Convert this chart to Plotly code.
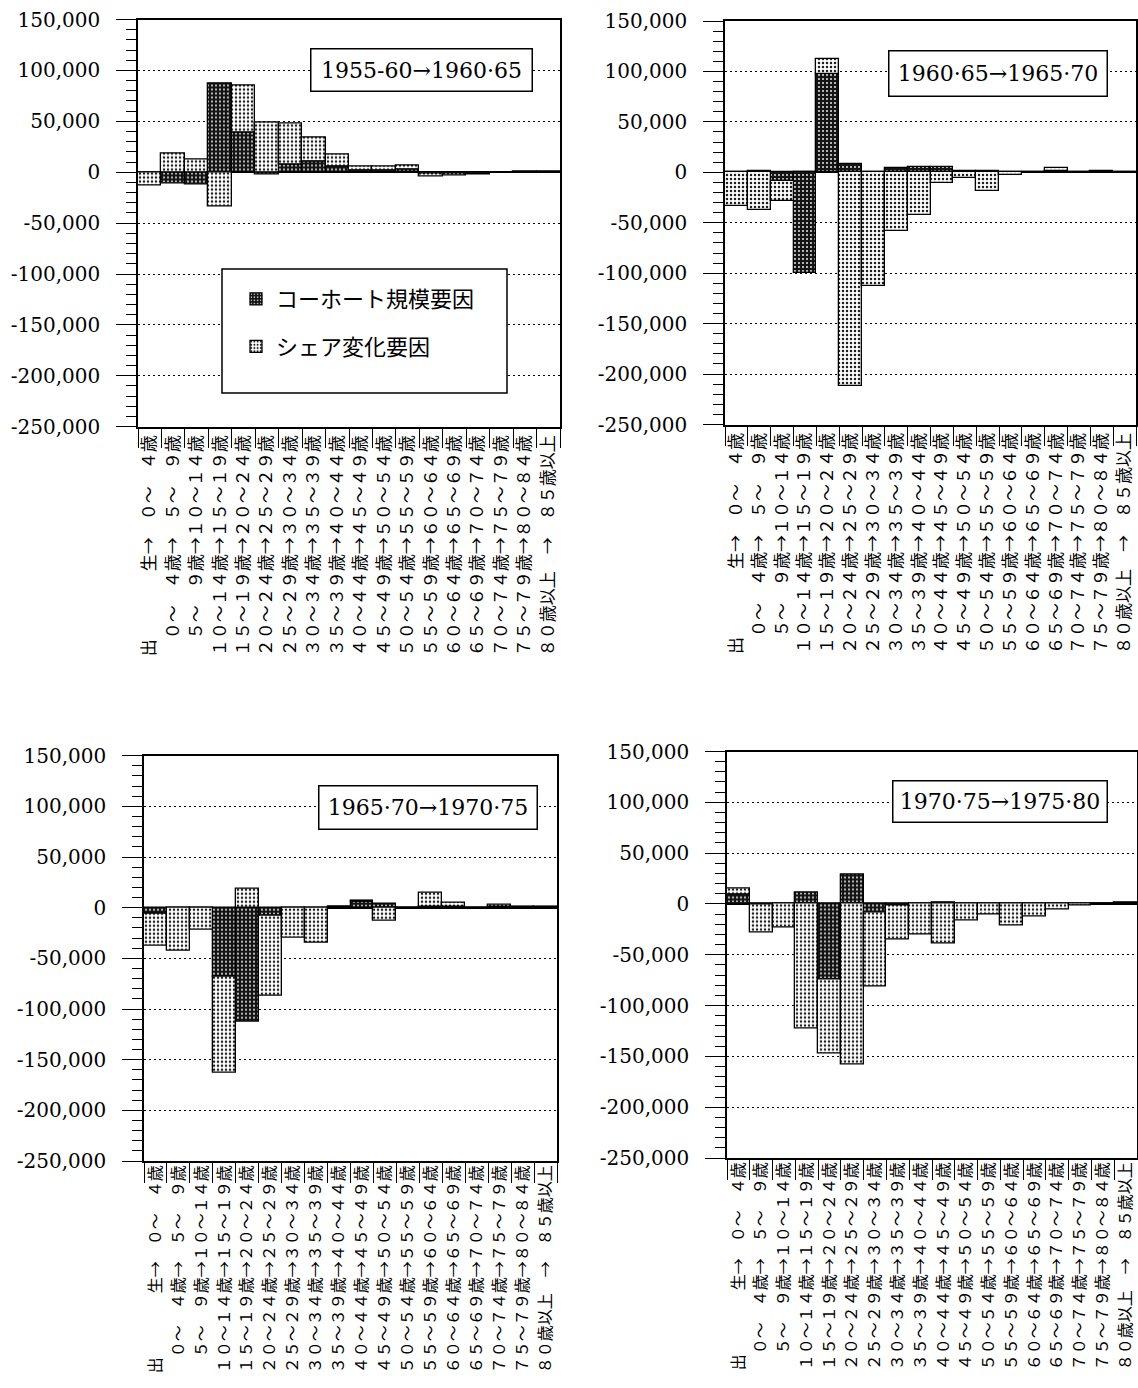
import plotly.graph_objects as go

# Age-group transitions (cohort moves from one 5-year band to the next)
categories = [
    "出　　　　生→　０～　４歳",
    "　０～　４歳→　５～　９歳",
    "　５～　９歳→１０～１４歳",
    "１０～１４歳→１５～１９歳",
    "１５～１９歳→２０～２４歳",
    "２０～２４歳→２５～２９歳",
    "２５～２９歳→３０～３４歳",
    "３０～３４歳→３５～３９歳",
    "３５～３９歳→４０～４４歳",
    "４０～４４歳→４５～４９歳",
    "４５～４９歳→５０～５４歳",
    "５０～５４歳→５５～５９歳",
    "５５～５９歳→６０～６４歳",
    "６０～６４歳→６５～６９歳",
    "６５～６９歳→７０～７４歳",
    "７０～７４歳→７５～７９歳",
    "７５～７９歳→８０～８４歳",
    "８０歳以上　→　８５歳以上",
]

series_names = ["コーホート規模要因", "シェア変化要因"]
period_labels = [
    "1955-60→1960·65",
    "1960·65→1965·70",
    "1965·70→1970·75",
    "1970·75→1975·80",
]

# Cohort-size factor and share-change factor, per period
cohort_1 = [0, -11000, -12000, 87000, 39000, -2000, 8000, 11000, 6000, 2000, 2000, 3000,
            -1000, -1000, -1000, 0, 0, 0]
share_1 = [-13000, 18000, 12000, -34000, 46000, 49000, 40000, 23000, 11000, 4000, 4000, 4000,
           -3000, -2000, -1000, -500, 500, 500]

cohort_2 = [0, 1000, -9000, -100000, 97000, 8000, 0, 4000, 5000, 5000, 1000, 1000,
            0, 0, 1000, 0, 0, 0]
share_2 = [-33000, -37000, -19000, 0, 15000, -212000, -113000, -58000, -42000, -11000, -6000, -19000,
           -3000, 0, 3000, 500, 1000, -1000]

cohort_3 = [-6000, 0, 0, -68000, -113000, -8000, 0, 0, 1000, 6000, 4000, 0,
            1000, 1000, 0, 1000, 0, 0]
share_3 = [-32000, -42000, -22000, -95000, 19000, -79000, -30000, -35000, 0, 1000, -13000, -1000,
           14000, 4000, -1000, 2000, 1000, 1000]

cohort_4 = [9000, -1000, 0, 11000, -74000, 28500, -8500, -2000, 0, 1000, 0, 0,
            500, 0, 0, 0, 0, 0]
share_4 = [6500, -27000, -23000, -123000, -73000, -158000, -73000, -33000, -30000, -39000, -16000, -10000,
           -21000, -12000, -5000, -2000, 500, 1000]

cohort_values = [cohort_1, cohort_2, cohort_3, cohort_4]
share_values = [share_1, share_2, share_3, share_4]

y_tickvals = [150000, 100000, 50000, 0, -50000, -100000, -150000, -200000, -250000]
y_ticktext = ["150,000", "100,000", "50,000", "0", "-50,000", "-100,000",
              "-150,000", "-200,000", "-250,000"]

W, H = 1138, 1388


def xdom(a, b):
    return [a / W, min(b / W, 1.0)]


def ydom(top, bottom):
    return [1 - bottom / H, 1 - top / H]


# Plot-area frames in pixels: (left, right, top, bottom)
frames = [
    (138, 560, 19.5, 426.7),
    (725, 1136, 21, 424.5),
    (144, 557, 755.7, 1161),
    (727, 1137, 751.5, 1158),
]
# Category label font size and offset for each panel
xlabel_size = [17, 17, 16, 16]
xlabel_standoff = [0, 0, -4, -4]

# Period label boxes in pixels: (left, right, top, bottom)
label_boxes = [
    (310, 533, 48, 92),
    (888, 1108, 50, 97),
    (318, 538, 785, 830),
    (892, 1108, 780, 823),
]

DARK = dict(color="#141414",
            pattern=dict(shape=".", fgcolor="#ffffff", bgcolor="#141414", size=4, solidity=0.16,
                         fillmode="replace"),
            line=dict(color="black", width=1.3))
LIGHT = dict(color="#ffffff",
             pattern=dict(shape=".", fgcolor="#1e1e1e", bgcolor="#ffffff", size=4, solidity=0.3,
                          fillmode="replace"),
             line=dict(color="black", width=1.3))

fig = go.Figure()
layout = {}
annotations = []

for k in range(4):
    sfx = "" if k == 0 else str(k + 1)
    xa, ya = "x" + sfx, "y" + sfx
    fig.add_trace(go.Bar(x=categories, y=cohort_values[k], name=series_names[0],
                         marker=DARK, xaxis=xa, yaxis=ya, legendgroup="a",
                         showlegend=(k == 0)))
    fig.add_trace(go.Bar(x=categories, y=share_values[k], name=series_names[1],
                         marker=LIGHT, xaxis=xa, yaxis=ya, legendgroup="b",
                         showlegend=(k == 0)))

    left, right, top, bottom = frames[k]
    layout["xaxis" + sfx] = dict(
        domain=xdom(left, right), anchor=ya, type="category", automargin=False,
        showline=True, linecolor="black", linewidth=1.5, mirror=True,
        ticks="outside", tickson="boundaries", ticklen=20, tickwidth=1.2, tickcolor="black",
        tickangle=-90, ticklabelstandoff=xlabel_standoff[k],
        tickfont=dict(family="Noto Sans CJK JP", size=xlabel_size[k], color="black"),
        showgrid=False, zeroline=False, fixedrange=True,
    )
    layout["yaxis" + sfx] = dict(
        domain=ydom(top, bottom), anchor=xa, range=[-250000, 150000], automargin=False,
        tickmode="array", tickvals=y_tickvals, ticktext=y_ticktext,
        ticks="outside", ticklen=20, tickwidth=1.3, tickcolor="black",
        ticklabelstandoff=12,
        tickfont=dict(family="DejaVu Serif", size=20, color="black"),
        showline=True, linecolor="black", linewidth=1.5, mirror=True,
        showgrid=True, gridcolor="black", gridwidth=1, griddash="2px,3px",
        zeroline=True, zerolinecolor="black", zerolinewidth=1.5,
        minor=dict(tickmode="linear", tick0=0, dtick=10000, ticks="outside", ticklen=10,
                   tickwidth=1.1, tickcolor="black", showgrid=False),
        fixedrange=True,
    )

    bl, br, bt, bb = label_boxes[k]
    annotations.append(dict(
        text=period_labels[k], xref="paper", yref="paper",
        x=(bl + br) / 2 / W, y=1 - (bt + bb) / 2 / H, xanchor="center", yanchor="middle",
        showarrow=False, width=br - bl - 3, height=bb - bt - 3, borderpad=0,
        bordercolor="black", borderwidth=1.5, bgcolor="white",
        font=dict(family="DejaVu Serif", size=22, color="black"),
    ))

# Frame drawn around the legend
legend_box = (222, 507, 269, 393)
shapes = [dict(type="rect", xref="paper", yref="paper",
               x0=legend_box[0] / W, x1=legend_box[1] / W,
               y0=1 - legend_box[3] / H, y1=1 - legend_box[2] / H,
               line=dict(color="black", width=1.5), fillcolor="white", layer="above")]

fig.update_layout(
    width=W, height=H, margin=dict(l=0, r=0, t=0, b=0, autoexpand=False),
    paper_bgcolor="white", plot_bgcolor="white",
    barmode="relative", bargap=0,
    showlegend=True,
    legend=dict(x=236 / W, y=1 - 278 / H, xanchor="left", yanchor="top",
                bgcolor="rgba(0,0,0,0)", borderwidth=0, traceorder="grouped",
                tracegroupgap=16, itemwidth=30,
                font=dict(family="Noto Sans CJK JP", size=22, color="black")),
    annotations=annotations, shapes=shapes,
    **layout,
)

fig.write_html("out.html")
